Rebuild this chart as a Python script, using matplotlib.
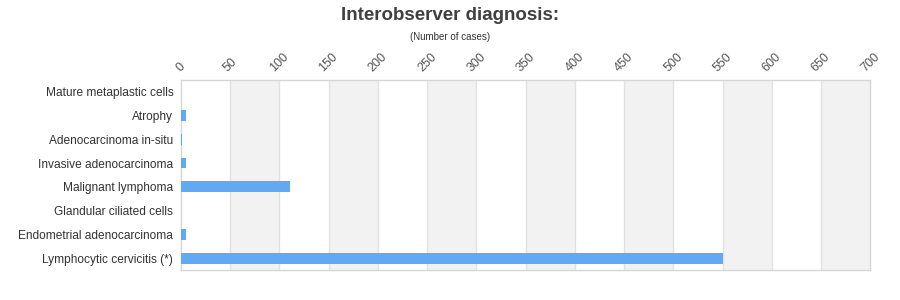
import numpy as np
import matplotlib.pyplot as plt

plt.rcParams['font.family'] = ['Liberation Sans', 'DejaVu Sans']

categories = ['Mature metaplastic cells', 'Atrophy', 'Adenocarcinoma in-situ',
              'Invasive adenocarcinoma', 'Malignant lymphoma', 'Glandular ciliated cells',
              'Endometrial adenocarcinoma', 'Lymphocytic cervicitis (*)']
cases = [0, 5, 1, 5, 111, 0, 5, 550]
ticks = list(range(0, 701, 50))

fig = plt.figure(figsize=(9, 3), dpi=100)
ax = fig.add_axes([0.201, 0.1, 0.766, 0.634])

y = np.arange(len(categories))
ax.barh(y, cases, height=0.46, color='#60a9f5', zorder=3)

# alternating shaded bands
for i in range(50, 700, 100):
    ax.axvspan(i, i + 50, color='#f2f2f2', zorder=0, lw=0)
for t in ticks[1:-1]:
    ax.axvline(t, color='#e2e2e2', lw=1, zorder=1)

ax.set_xlim(0, 700)
ax.set_ylim(len(categories) - 0.5, -0.5)
ax.set_yticks(y)
ax.set_yticklabels(categories, fontsize=8.6, color='#333333')
ax.xaxis.tick_top()
ax.set_xticks(ticks)
ax.set_xticklabels([str(t) for t in ticks], rotation=45, ha='center', va='bottom',
                   fontsize=9, color='#555555')
ax.tick_params(axis='both', length=0)
ax.tick_params(axis='x', pad=4)
ax.tick_params(axis='y', pad=5.5)
for s in ax.spines.values():
    s.set_color('#d6d6d6')
    s.set_linewidth(1)

fig.text(0.5, 0.948, 'Interobserver diagnosis:', ha='center', va='center',
         fontsize=13.5, fontweight='bold', color='#404040')
fig.text(0.5, 0.877, '(Number of cases)', ha='center', va='center',
         fontsize=7, color='#333333')

fig.savefig('out.png', dpi=100)
